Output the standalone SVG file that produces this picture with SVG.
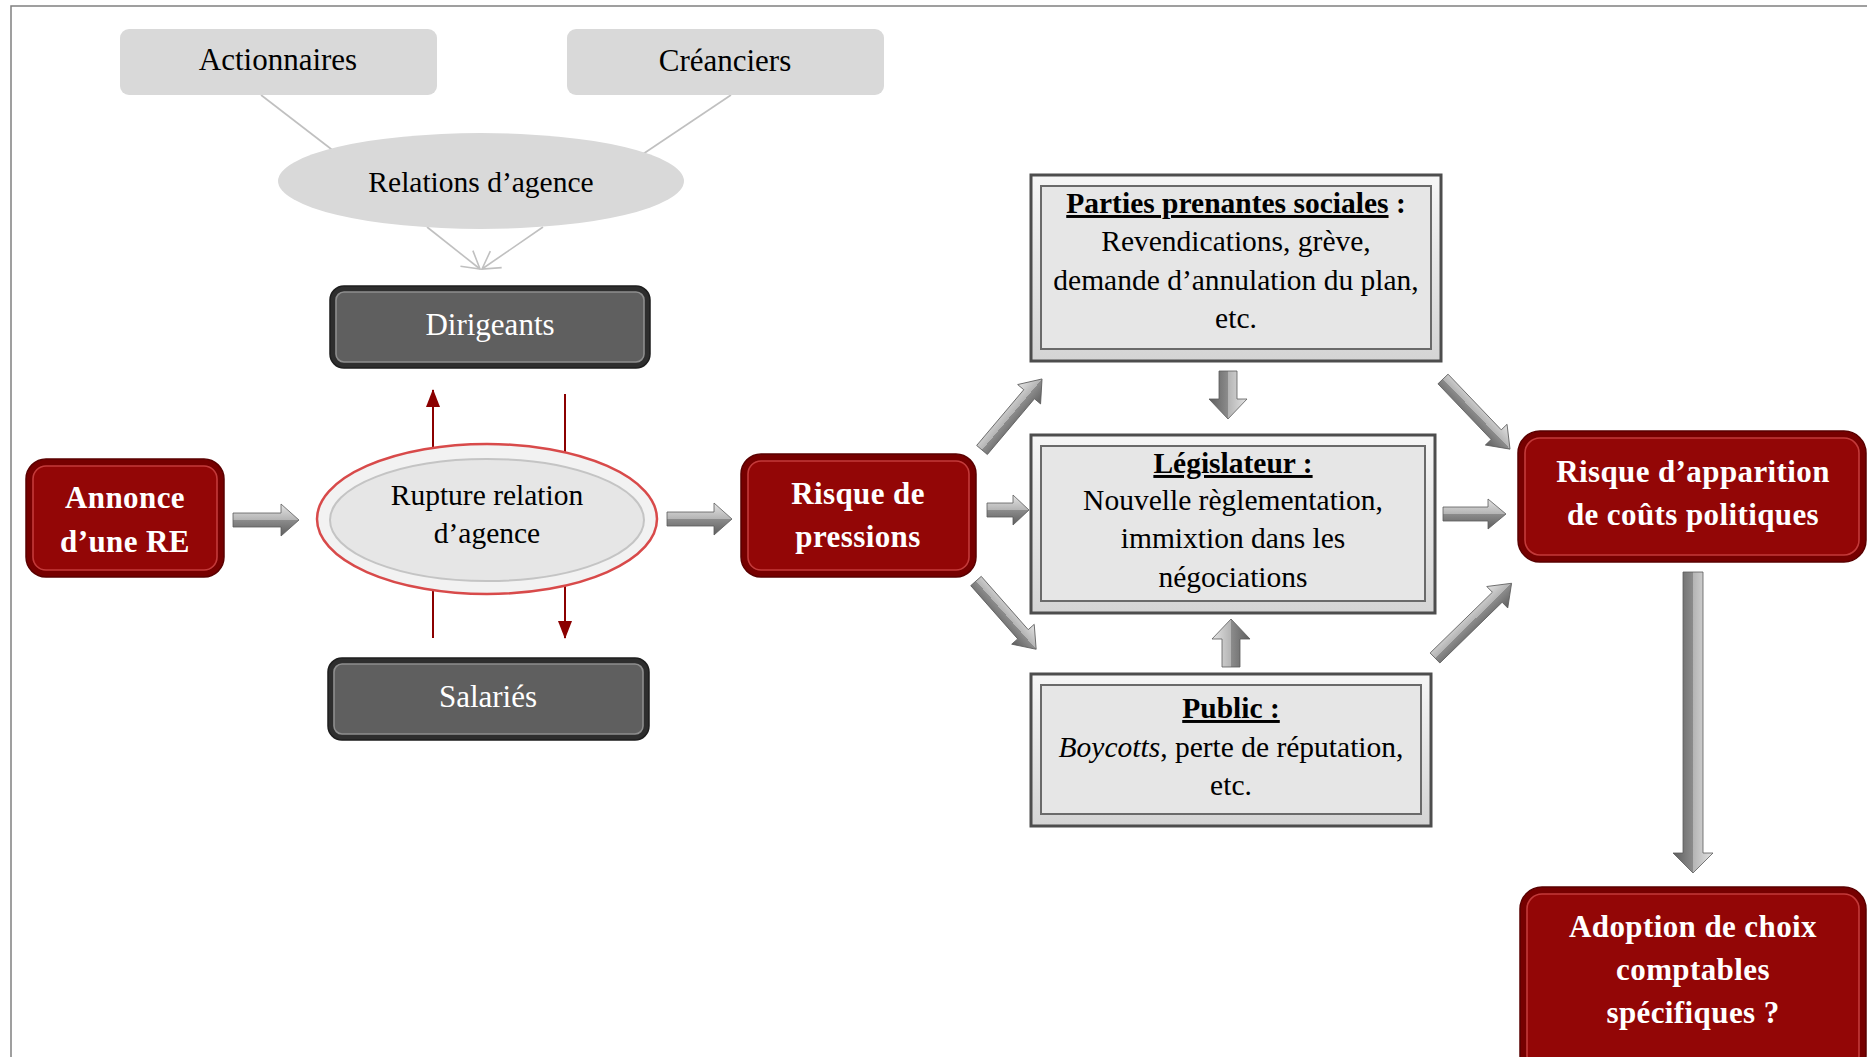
<svg xmlns="http://www.w3.org/2000/svg" width="1867" height="1057" viewBox="0 0 1867 1057">
<style>
text{font-family:"Liberation Serif","Times New Roman",serif;text-anchor:middle}
.reg{font-size:31px;fill:#000}
.box{font-size:29.5px;fill:#000}
.wreg{font-size:31px;fill:#fff}
.wb{font-size:31px;font-weight:bold;fill:#fff;letter-spacing:0.4px}
.hd{font-weight:bold}
.lite{fill:#d9d9d9}
.redO{fill:#760000;stroke:#5a0000;stroke-width:1.5}
.redI{fill:#930606;stroke:#c33a3a;stroke-width:1.6}
.grayO{fill:#2e2e2e;stroke:#1e1e1e;stroke-width:1.5}
.grayI{fill:#5f5f5f;stroke:#8e8e8e;stroke-width:1.6}
.frO{fill:url(#frame);stroke:#4d4d4d;stroke-width:3}
.frI{fill:#e6e6e6;stroke:#6a6a6a;stroke-width:2}
.blk{fill:url(#arr);stroke:#5a5a5a;stroke-width:0.8}
.thin{stroke:#c0c0c0;stroke-width:1.6;fill:none}
.red{stroke:#8b0000;stroke-width:2;fill:none}
</style>
<defs>
<linearGradient id="arr" x1="0" y1="0" x2="0" y2="1">
<stop offset="0" stop-color="#e4e4e4"/>
<stop offset="0.5" stop-color="#b4b4b4"/>
<stop offset="0.5" stop-color="#8c8c8c"/>
<stop offset="1" stop-color="#5e5e5e"/>
</linearGradient>
<linearGradient id="frame" x1="0" y1="0" x2="0" y2="1">
<stop offset="0" stop-color="#f6f6f6"/>
<stop offset="1" stop-color="#d4d4d4"/>
</linearGradient>
<marker id="redHead" markerWidth="18" markerHeight="14" refX="17" refY="7" orient="auto" markerUnits="userSpaceOnUse" viewBox="0 0 18 14">
<path d="M0,0 L18,7 L0,14 Z" fill="#8b0000"/>
</marker>
<marker id="openHead" markerWidth="22" markerHeight="22" refX="20" refY="11" orient="auto" markerUnits="userSpaceOnUse" viewBox="0 0 22 22">
<path d="M3,1 L20,11 L3,21" fill="none" stroke="#c0c0c0" stroke-width="1.6"/>
</marker>
</defs>

<path d="M11,1057 V6 H1867" fill="none" stroke="#808080" stroke-width="1.5"/>

<g id="connectors">
<line class="thin" x1="261" y1="95" x2="335" y2="152"/>
<line class="thin" x1="731" y1="95" x2="640" y2="156"/>
<line class="thin" x1="427" y1="227" x2="480" y2="269" marker-end="url(#openHead)"/>
<line class="thin" x1="543" y1="227" x2="482" y2="269" marker-end="url(#openHead)"/>
<line class="red" x1="433" y1="638" x2="433" y2="390" marker-end="url(#redHead)"/>
<line class="red" x1="565" y1="394" x2="565" y2="638" marker-end="url(#redHead)"/>
<polygon class="blk" transform="translate(233,520)" points="0,-7 48,-7 48,-16 66,0 48,16 48,7 0,7"/>
<polygon class="blk" transform="translate(667,519)" points="0,-7 47,-7 47,-16 65,0 47,16 47,7 0,7"/>
<polygon class="blk" transform="translate(987,510)" points="0,-7 26,-7 26,-15 42,0 26,15 26,7 0,7"/>
<polygon class="blk" transform="translate(982,450) rotate(-49.8)" points="0,-7 73,-7 73,-15 93,0 73,15 73,7 0,7"/>
<polygon class="blk" transform="translate(976,581) rotate(48.6)" points="0,-7 71,-7 71,-15 91,0 71,15 71,7 0,7"/>
<polygon class="blk" transform="translate(1228,371) rotate(90)" points="0,-9 28,-9 28,-19 48,0 28,19 28,9 0,9"/>
<polygon class="blk" transform="translate(1231,667) rotate(-90)" points="0,-9 28,-9 28,-19 48,0 28,19 28,9 0,9"/>
<polygon class="blk" transform="translate(1443,379) rotate(46.3)" points="0,-7 77,-7 77,-15 97,0 77,15 77,7 0,7"/>
<polygon class="blk" transform="translate(1443,514)" points="0,-7 45,-7 45,-15 63,0 45,15 45,7 0,7"/>
<polygon class="blk" transform="translate(1435,658) rotate(-44.3)" points="0,-7 87,-7 87,-15 107,0 87,15 87,7 0,7"/>
<polygon class="blk" transform="translate(1693,572) rotate(90)" points="0,-10 281,-10 281,-20 301,0 281,20 281,10 0,10"/>
</g>

<g id="actionnaires">
<rect class="lite" x="120" y="29" width="317" height="66" rx="9"/>
<text class="reg" x="278" y="70">Actionnaires</text>
</g>
<g id="creanciers">
<rect class="lite" x="567" y="29" width="317" height="66" rx="9"/>
<text class="reg" x="725" y="71">Créanciers</text>
</g>
<g id="relations">
<ellipse class="lite" cx="481" cy="181" rx="203" ry="48"/>
<text class="box" x="481" y="192">Relations d’agence</text>
</g>
<g id="dirigeants">
<rect class="grayO" x="330" y="286" width="320" height="82" rx="14"/>
<rect class="grayI" x="336" y="292" width="308" height="70" rx="8"/>
<text class="wreg" x="490" y="335">Dirigeants</text>
</g>
<g id="salaries">
<rect class="grayO" x="328" y="658" width="321" height="82" rx="14"/>
<rect class="grayI" x="334" y="664" width="309" height="70" rx="8"/>
<text class="wreg" x="488" y="707">Salariés</text>
</g>
<g id="annonce">
<rect class="redO" x="26" y="459" width="198" height="118" rx="20"/>
<rect class="redI" x="33" y="466" width="184" height="104" rx="13"/>
<text class="wb" x="125" y="508">Annonce</text>
<text class="wb" x="125" y="552">d’une RE</text>
</g>
<g id="rupture">
<ellipse cx="487" cy="519" rx="170" ry="75" fill="#f2f2f2" stroke="#d84a4a" stroke-width="2.5"/>
<ellipse cx="487" cy="520" rx="157" ry="61" fill="#e6e6e6" stroke="#c4c4c4" stroke-width="2"/>
<text class="box" x="487" y="505">Rupture relation</text>
<text class="box" x="487" y="543">d’agence</text>
</g>
<g id="risque-pressions">
<rect class="redO" x="741" y="454" width="235" height="123" rx="20"/>
<rect class="redI" x="748" y="461" width="221" height="109" rx="13"/>
<text class="wb" x="858" y="504">Risque de</text>
<text class="wb" x="858" y="547">pressions</text>
</g>
<g id="parties-prenantes">
<rect class="frO" x="1031" y="175" width="410" height="186"/>
<rect class="frI" x="1041" y="186" width="390" height="163"/>
<text class="box" x="1236" y="213"><tspan class="hd" text-decoration="underline">Parties prenantes sociales</tspan><tspan class="hd"> :</tspan></text>
<text class="box" x="1236" y="251">Revendications, grève,</text>
<text class="box" x="1236" y="290">demande d’annulation du plan,</text>
<text class="box" x="1236" y="328">etc.</text>
</g>
<g id="legislateur">
<rect class="frO" x="1031" y="435" width="404" height="178"/>
<rect class="frI" x="1041" y="446" width="384" height="155"/>
<text class="box" x="1233" y="473"><tspan class="hd" text-decoration="underline">Législateur :</tspan></text>
<text class="box" x="1233" y="510">Nouvelle règlementation,</text>
<text class="box" x="1233" y="548">immixtion dans les</text>
<text class="box" x="1233" y="587">négociations</text>
</g>
<g id="public">
<rect class="frO" x="1031" y="674" width="400" height="152"/>
<rect class="frI" x="1041" y="685" width="380" height="129"/>
<text class="box" x="1231" y="718"><tspan class="hd" text-decoration="underline">Public :</tspan></text>
<text class="box" x="1231" y="757"><tspan font-style="italic">Boycotts</tspan>, perte de réputation,</text>
<text class="box" x="1231" y="795">etc.</text>
</g>
<g id="risque-couts">
<rect class="redO" x="1518" y="431" width="348" height="131" rx="22"/>
<rect class="redI" x="1525" y="438" width="334" height="117" rx="15"/>
<text class="wb" x="1693" y="482">Risque d’apparition</text>
<text class="wb" x="1693" y="525">de coûts politiques</text>
</g>
<g id="adoption">
<rect class="redO" x="1520" y="887" width="346" height="190" rx="22"/>
<rect class="redI" x="1527" y="894" width="332" height="176" rx="15"/>
<text class="wb" x="1693" y="937">Adoption de choix</text>
<text class="wb" x="1693" y="980">comptables</text>
<text class="wb" x="1693" y="1023">spécifiques ?</text>
</g>
</svg>
